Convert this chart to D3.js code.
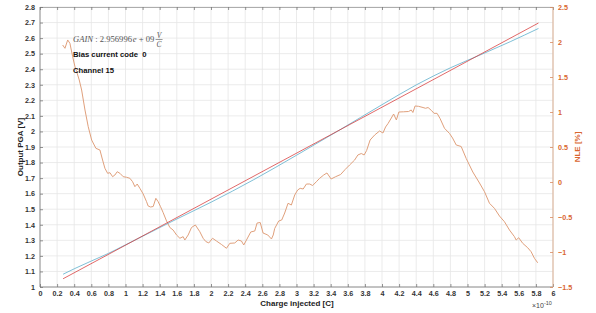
<!DOCTYPE html>
<html><head><meta charset="utf-8">
<script src="https://cdn.jsdelivr.net/npm/d3@7"></script>
<style>body{margin:0;background:#fff;} svg{display:block;font-family:Arial,"Liberation Sans",sans-serif;}</style>
</head><body>
<script>
// Charge injected (x 1e-10 C)
const nleX = [0.265,0.292,0.324,0.350,0.382,0.409,0.429,0.459,0.487,0.526,0.564,0.604,0.654,0.701,0.732,0.759,0.791,0.818,0.849,0.876,0.903,0.935,0.973,1.013,1.051,1.083,1.110,1.137,1.168,1.207,1.246,1.265,1.293,1.324,1.355,1.382,1.410,1.440,1.480,1.519,1.557,1.597,1.636,1.674,1.694,1.733,1.772,1.817,1.869,1.908,1.939,1.974,2.018,2.064,2.123,2.181,2.220,2.278,2.317,2.356,2.383,2.415,2.465,2.512,2.539,2.576,2.609,2.664,2.707,2.728,2.745,2.792,2.827,2.862,2.901,2.940,2.979,3.014,3.043,3.078,3.116,3.154,3.189,3.232,3.271,3.318,3.356,3.405,3.458,3.516,3.569,3.621,3.680,3.718,3.758,3.791,3.820,3.861,3.914,3.972,4.011,4.042,4.071,4.109,4.136,4.168,4.197,4.252,4.311,4.342,4.361,4.387,4.428,4.480,4.509,4.539,4.579,4.609,4.644,4.679,4.731,4.790,4.825,4.868,4.926,4.985,5.062,5.140,5.199,5.257,5.315,5.374,5.432,5.491,5.549,5.569,5.599,5.646,5.704,5.744,5.783,5.821];
// NLE [%]
const nleY = [1.957,1.910,2.029,1.981,1.790,1.647,1.576,1.457,1.314,1.029,0.790,0.600,0.481,0.457,0.314,0.196,0.124,0.133,0.076,0.100,0.147,0.124,0.076,0.067,0.053,0.004,-0.067,-0.029,-0.090,-0.171,-0.281,-0.343,-0.357,-0.350,-0.233,-0.281,-0.353,-0.436,-0.557,-0.650,-0.686,-0.757,-0.804,-0.781,-0.829,-0.757,-0.650,-0.614,-0.710,-0.804,-0.850,-0.871,-0.804,-0.843,-0.893,-0.947,-0.876,-0.871,-0.829,-0.843,-0.900,-0.829,-0.714,-0.700,-0.586,-0.579,-0.729,-0.757,-0.814,-0.757,-0.664,-0.557,-0.543,-0.443,-0.304,-0.329,-0.186,-0.114,-0.090,-0.100,-0.029,-0.029,-0.050,0.004,0.053,0.100,0.129,0.043,0.076,0.107,0.179,0.243,0.314,0.386,0.407,0.386,0.450,0.600,0.671,0.729,0.700,0.786,0.836,0.914,0.971,0.886,1.000,1.003,1.007,1.029,0.993,1.086,1.081,1.064,1.053,1.064,1.021,0.981,0.981,0.907,0.767,0.693,0.629,0.529,0.507,0.336,0.143,-0.014,-0.139,-0.304,-0.376,-0.486,-0.567,-0.686,-0.781,-0.829,-0.796,-0.876,-0.939,-0.996,-1.090,-1.154];
// Measured output PGA [V]
const measX = [0.27,0.4,0.6,0.8,1.0,1.3,1.6,2.0,2.5,3.0,3.5,4.0,4.4,4.8,5.2,5.5,5.83];
const measY = [1.082,1.117,1.167,1.216,1.271,1.354,1.437,1.545,1.690,1.847,2.008,2.172,2.299,2.409,2.504,2.577,2.662];
// Linear fit
const fitX = [0.27,5.83];
const fitY = [1.053,2.697];

const xTicks = d3.range(0,31).map(i=>+(i*0.2).toFixed(1));
const yTicks = d3.range(0,19).map(i=>+(1+i*0.1).toFixed(1));
const y2Ticks = [-1.5,-1,-0.5,0,0.5,1,1.5,2,2.5];

const W=596,H=313, L=40, R=553, T=7, B=287;
const svg=d3.select("body").append("svg").attr("width",W).attr("height",H);
const x=d3.scaleLinear().domain([0,6]).range([L,R]);
const y=d3.scaleLinear().domain([1,2.8]).range([B,T]);
const y2=d3.scaleLinear().domain([-1.5,2.5]).range([B,T]);

const grid="#e6e6e6";
svg.append("g").selectAll("line").data(xTicks).join("line")
  .attr("x1",d=>x(d)).attr("x2",d=>x(d)).attr("y1",T).attr("y2",B)
  .attr("stroke",grid).attr("stroke-width",0.8);
svg.append("g").selectAll("line").data(yTicks).join("line")
  .attr("y1",d=>y(d)).attr("y2",d=>y(d)).attr("x1",L).attr("x2",R)
  .attr("stroke",grid).attr("stroke-width",0.8);

// frame top
svg.append("line").attr("x1",L).attr("x2",R).attr("y1",T+0.5).attr("y2",T+0.5).attr("stroke","#9a9a9a").attr("stroke-width",0.8);

// Bottom axis
const xAxis=d3.axisBottom(x).tickValues(xTicks).tickSize(-3).tickPadding(4).tickFormat(d=>d3.format("~g")(d));
const gx=svg.append("g").attr("transform",`translate(0,${B})`).call(xAxis);
const gxTop=svg.append("g").attr("transform",`translate(0,${T})`).call(d3.axisTop(x).tickValues(xTicks).tickSize(-3).tickFormat(""));
gxTop.select(".domain").remove();
// Left axis
const gy=svg.append("g").attr("transform",`translate(${L},0)`).call(d3.axisLeft(y).tickValues(yTicks).tickSize(-3).tickPadding(5).tickFormat(d=>d3.format("~g")(d)));
// Right axis
const gy2=svg.append("g").attr("transform",`translate(${R},0)`).call(d3.axisRight(y2).tickValues(y2Ticks).tickSize(-3).tickPadding(5).tickFormat(d=>d3.format("~g")(d)));

[gx,gy,gxTop].forEach(g=>{
  g.select(".domain").attr("stroke","#777").attr("stroke-width",0.8);
  g.selectAll(".tick line").attr("stroke","#777").attr("stroke-width",0.8);
  g.selectAll("text").attr("fill","#333").attr("font-size","7.2px").attr("font-weight","bold");
});
gx.select(".domain").attr("d",`M${L},0H${R}`);
gy.select(".domain").attr("d",`M0,${B}V${T}`);
gy2.select(".domain").attr("stroke","#d9a888").attr("stroke-width",0.9).attr("d",`M0,${B}V${T}`);
gy2.selectAll(".tick line").attr("stroke","#d98a5f").attr("stroke-width",0.8);
gy2.selectAll("text").attr("fill","#d9662e").attr("font-size","7.2px").attr("font-weight","bold");

// Lines
const lineP=d3.line().x(d=>x(d[0])).y(d=>y(d[1]));
const lineN=d3.line().x(d=>x(d[0])).y(d=>y2(d[1]));
svg.append("path").datum(nleX.map((v,i)=>[v,nleY[i]])).attr("d",lineN)
  .attr("fill","none").attr("stroke","#e0a07c").attr("stroke-width",1).attr("stroke-linejoin","round");
svg.append("path").datum(measX.map((v,i)=>[v,measY[i]])).attr("d",d3.line().curve(d3.curveMonotoneX).x(d=>x(d[0])).y(d=>y(d[1])))
  .attr("fill","none").attr("stroke","#5fb0cc").attr("stroke-width",0.9).attr("opacity",0.9);
svg.append("path").datum(fitX.map((v,i)=>[v,fitY[i]])).attr("d",lineP)
  .attr("fill","none").attr("stroke","#d83a3a").attr("stroke-width",0.9).attr("opacity",0.85);

// Annotations
const ann=svg.append("g");
const gt=ann.append("text").attr("x",73).attr("y",42).attr("font-family","'Liberation Serif','Times New Roman',serif").attr("font-size","8.6px").attr("fill","#555");
gt.append("tspan").attr("font-style","italic").text("GAIN");
gt.append("tspan").text(" : 2.956996");
gt.append("tspan").attr("font-style","italic").attr("dx",0.8).text("e");
gt.append("tspan").text(" + 09");
const fx=73+gt.node().getComputedTextLength()+5.5;
ann.append("text").attr("x",fx).attr("y",37.5).attr("text-anchor","middle").attr("font-family","'Liberation Serif',serif").attr("font-style","italic").attr("font-size","7.5px").attr("fill","#555").text("V");
ann.append("line").attr("x1",fx-3.5).attr("x2",fx+3.5).attr("y1",39.5).attr("y2",39.5).attr("stroke","#555").attr("stroke-width",0.6);
ann.append("text").attr("x",fx).attr("y",46.5).attr("text-anchor","middle").attr("font-family","'Liberation Serif',serif").attr("font-style","italic").attr("font-size","7.5px").attr("fill","#555").text("C");
ann.append("text").attr("x",73).attr("y",57).attr("font-size","7.7px").attr("font-weight","bold").attr("fill","#111").attr("xml:space","preserve").text("Bias current code  0");
ann.append("text").attr("x",73).attr("y",73).attr("font-size","7.7px").attr("font-weight","bold").attr("fill","#111").text("Channel 15");

// Axis titles
svg.append("text").attr("transform","translate(23,147) rotate(-90)").attr("text-anchor","middle").attr("font-size","8px").attr("font-weight","bold").attr("fill","#222").text("Output PGA [V]");
svg.append("text").attr("transform","translate(580,147) rotate(-90)").attr("text-anchor","middle").attr("font-size","8px").attr("font-weight","bold").attr("fill","#d9662e").text("NLE [%]");
svg.append("text").attr("x",297).attr("y",306).attr("text-anchor","middle").attr("font-size","8px").attr("font-weight","bold").attr("fill","#222").text("Charge injected [C]");
const ex=svg.append("text").attr("x",532).attr("y",308).attr("font-size","7px").attr("fill","#444");
ex.append("tspan").text("×10");
ex.append("tspan").attr("dy",-3).attr("font-size","5.5px").text("-10");
</script>
</body></html>
